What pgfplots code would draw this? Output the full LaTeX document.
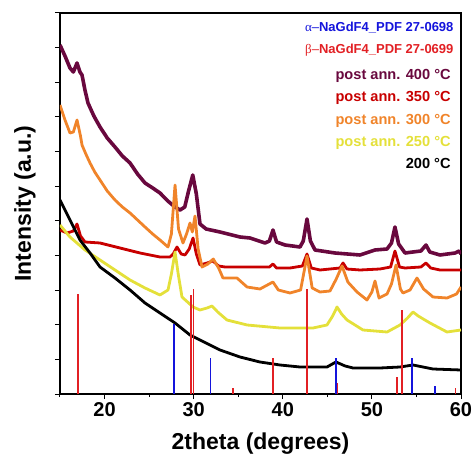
\documentclass[border=0pt]{standalone}
\usepackage{fontspec}
\setmainfont{Liberation Sans}
\newfontfamily\serifgr{Liberation Serif}
\usepackage{pgfplots}
\pgfplotsset{compat=1.18}
\usetikzlibrary{calc}
\definecolor{cpurple}{RGB}{105,8,62}
\definecolor{cdred}{RGB}{200,0,0}
\definecolor{corange}{RGB}{240,132,42}
\definecolor{cyellow}{RGB}{228,224,58}
\definecolor{cblue}{RGB}{20,20,220}
\definecolor{cred}{RGB}{226,32,36}
\begin{document}
\begin{tikzpicture}
\begin{axis}[
  width=401pt, height=381pt, scale only axis,
  xmin=15, xmax=60, ymin=0, ymax=381,
  xtick={20,30,40,50,60}, minor xtick={15,25,35,45,55},
  ytick={0,34.64,69.27,103.91,138.55,173.18,207.82,242.45,277.09,311.73,346.36,381},
  minor y tick num=1,
  yticklabels={},
  xtick pos=bottom, ytick pos=left,
  tick align=outside,
  major tick length=5pt, minor tick length=3pt,
  every tick/.style={black, line width=1pt},
  axis line style={line width=1.2pt},
  /pgf/number format/assume math mode=true,
  xticklabel style={font=\fontsize{20}{22}\selectfont\bfseries},
  xlabel={\fontsize{23}{26}\selectfont\bfseries 2theta (degrees)},
  ylabel={\fontsize{23}{26}\selectfont\bfseries Intensity (a.u.)},
  xlabel style={yshift=-9pt},
  ylabel style={yshift=9pt},
  clip=true,
]
% 400 C
\addplot[cpurple, line width=3.6pt, line join=round] coordinates {
(15.0,349)(15.56,338)(16.12,326)(16.5,322)(16.91,331)(17.24,322)(17.47,319)(17.8,304)(18.14,291)(18.8,278)(19.49,267)(20.3,256)(21.17,247)(22.0,238)(22.86,231)(23.7,220)(24.54,211)(25.4,206)(26.22,201)(27.1,193)(27.91,187)(28.47,184)(29.0,187)(29.4,202)(29.9,219)(30.3,200)(30.71,170)(31.4,165)(32.96,162)(35.20,157)(36.32,156)(38.01,151)(38.5,153)(38.90,164)(39.3,152)(40.25,149)(41.93,147)(42.3,153)(42.72,175)(43.1,153)(43.62,144)(45.86,141)(48.67,139)(50.35,144)(51.7,145)(52.2,151)(52.59,167)(53.0,150)(53.72,141)(55.5,143)(56.07,149)(56.5,142)(57.64,139)(59.33,141)(59.78,143)(60.0,140)
};
% 350 C
\addplot[cdred, line width=2.8pt, line join=round] coordinates {
(15.0,164)(15.79,161)(16.5,163)(16.91,170)(17.3,158)(17.81,152)(19.49,151)(21.73,146)(23.98,141)(26.22,137)(27.34,137)(27.7,140)(28.13,147)(28.6,140)(29.03,139)(29.5,145)(29.93,156)(30.3,140)(30.71,129)(31.5,131)(32.17,133)(32.8,128)(33.52,127)(36.32,127)(38.5,127)(38.90,130)(39.3,126)(40.81,126)(42.2,128)(42.72,140)(43.2,126)(44.18,124)(46.42,126)(46.76,131)(47.2,125)(48.67,124)(50.91,125)(52.1,127)(52.59,143)(53.1,127)(53.72,126)(55.5,127)(56.07,131)(56.6,126)(57.64,124)(60.0,124)
};
% 300 C
\addplot[corange, line width=2.8pt, line join=round] coordinates {
(15.0,289)(15.56,274)(16.12,261)(16.5,262)(16.91,274)(17.3,258)(17.47,249)(17.9,240)(18.37,231)(18.9,222)(19.49,214)(20.3,203)(21.17,194)(22.0,187)(22.86,181)(23.7,174)(24.54,167)(25.4,160)(26.22,154)(27.12,147)(27.5,160)(27.91,209)(28.3,165)(28.80,151)(29.2,160)(29.59,171)(29.85,162)(30.15,178)(30.5,145)(30.94,127)(31.6,130)(32.2,135)(32.8,126)(33.29,116)(34.86,116)(35.99,107)(37.44,105)(38.90,112)(39.5,104)(40.81,101)(42.0,104)(42.72,138)(43.3,106)(44.18,102)(45.30,103)(46.0,115)(46.65,128)(47.3,112)(48.33,102)(49.45,94)(50.0,102)(50.35,113)(50.8,96)(51.70,100)(52.2,110)(52.71,129)(53.2,105)(53.49,101)(54.28,104)(55.06,116)(55.8,105)(56.86,97)(58.43,96)(59.5,100)(60.0,107)
};
% 250 C
\addplot[cyellow, line width=2.8pt, line join=round] coordinates {
(15.0,169)(16.12,157)(17.81,144)(19.49,134)(21.17,124)(22.86,114)(24.54,106)(26.22,99)(27.12,104)(27.5,120)(27.91,142)(28.3,118)(28.69,97)(29.93,87)(30.71,84)(31.5,86)(32.06,88)(32.7,82)(33.74,74)(35.99,69)(39.69,66)(43.39,66)(44.96,69)(45.6,78)(46.09,87)(46.6,80)(47.21,74)(49.00,64)(51.70,62)(53.16,69)(54.0,76)(54.61,82)(55.2,78)(56.52,71)(58.43,62)(60.0,64)
};
% 200 C
\addplot[black, line width=2.8pt, line join=round] coordinates {
(15.0,194)(16.12,174)(17.24,154)(18.37,141)(19.49,127)(21.17,116)(22.86,104)(24.54,91)(26.22,81)(27.91,71)(29.59,59)(30.71,54)(32.96,44)(35.20,37)(37.44,32)(39.69,29)(41.93,27)(44.96,27)(45.97,32)(47.0,28)(47.88,26)(50.91,26)(53.16,27)(54.61,29)(56.86,25)(60.0,24)
};
% beta reference lines
\addplot[cred, ycomb, line width=1.6pt, mark=none] coordinates {
(17.0,100)(29.7,99)(30.0,105)(34.4,6)(38.9,36)(42.7,105)(46.1,11)(52.8,17)(53.4,84)(59.4,6)
};
% alpha reference lines
\addplot[cblue, ycomb, line width=1.6pt, mark=none] coordinates {
(27.8,70)(31.9,36)(46.0,36)(54.5,36)(57.1,8)
};
\node[anchor=east, text=cblue, font=\fontsize{13}{15}\selectfont] at (rel axis cs:0.99,0.963) {{\serifgr α}–\textbf{NaGdF4\_PDF 27-0698}};
\node[anchor=east, text=cred, font=\fontsize{13}{15}\selectfont] at (rel axis cs:0.99,0.903) {{\serifgr β}–\textbf{NaGdF4\_PDF 27-0699}};
\node[anchor=east, text=cpurple, font=\fontsize{14.6}{16}\selectfont\bfseries] at (rel axis cs:0.983,0.835) {post ann. 400 °C};
\node[anchor=east, text=cdred, font=\fontsize{14.6}{16}\selectfont\bfseries] at (rel axis cs:0.983,0.777) {post ann. 350 °C};
\node[anchor=east, text=corange, font=\fontsize{14.6}{16}\selectfont\bfseries] at (rel axis cs:0.983,0.717) {post ann. 300 °C};
\node[anchor=east, text=cyellow, font=\fontsize{14.6}{16}\selectfont\bfseries] at (rel axis cs:0.983,0.659) {post ann. 250 °C};
\node[anchor=east, text=black, font=\fontsize{14.6}{16}\selectfont\bfseries] at (rel axis cs:0.983,0.604) {200 °C};
\end{axis}
\pgfresetboundingbox
\path[use as bounding box] ($(current axis.south west)+(-60pt,-63pt)$) rectangle ($(current axis.north east)+(12pt,13pt)$);
\end{tikzpicture}
\end{document}
